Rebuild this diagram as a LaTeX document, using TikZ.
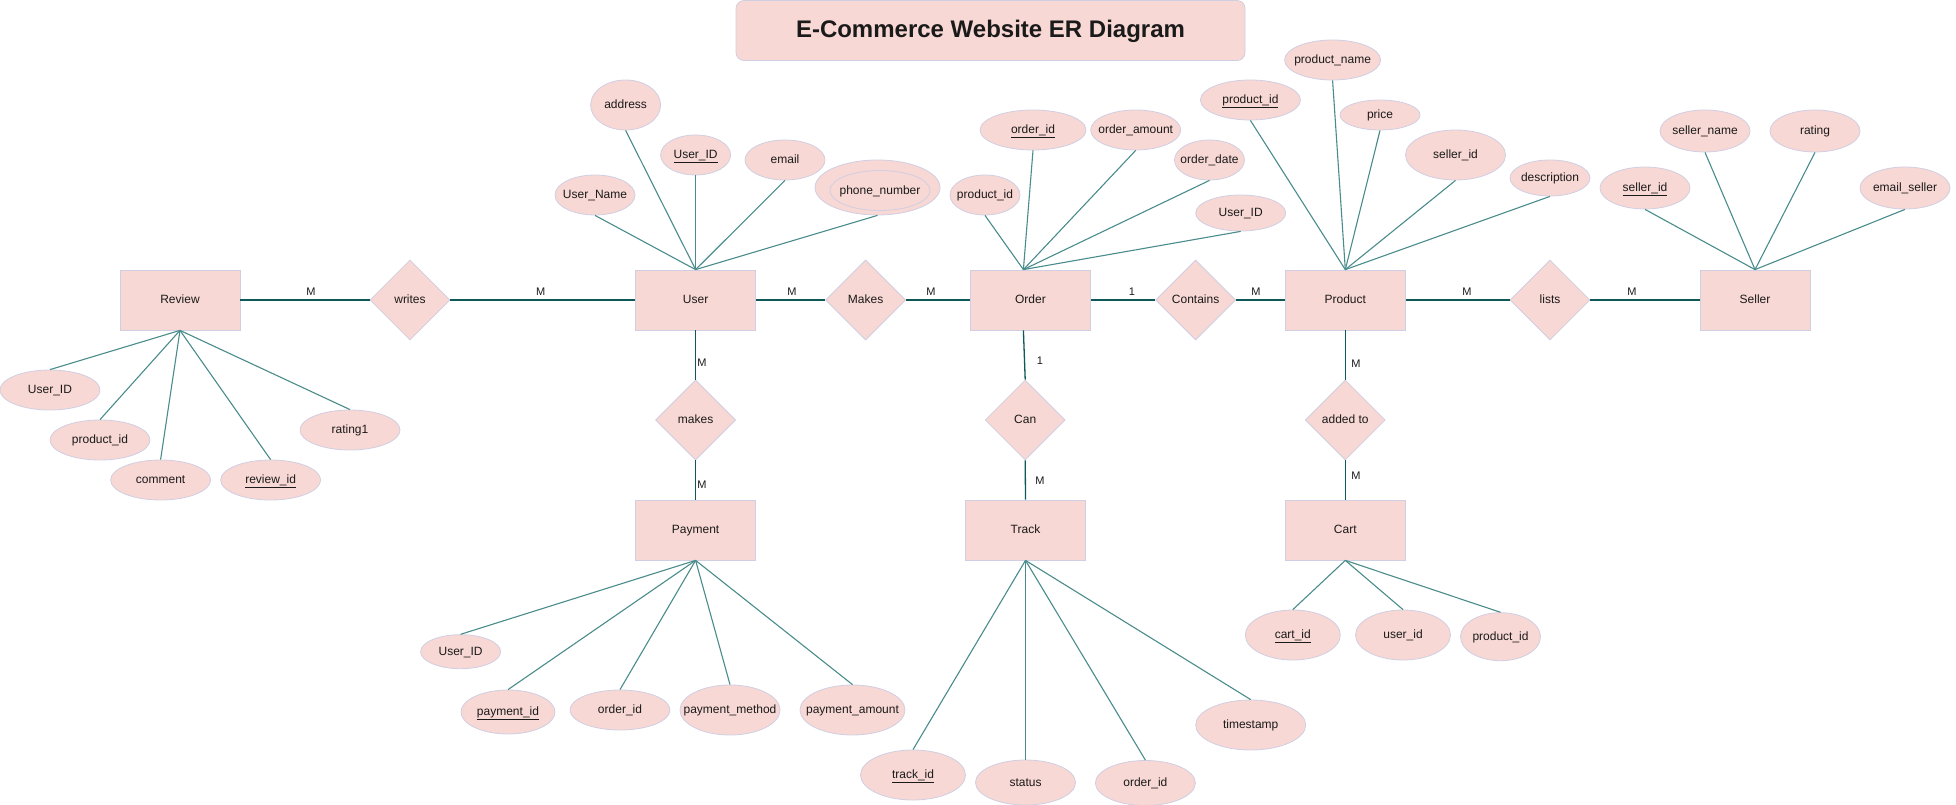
\documentclass[tikz,border=0pt]{standalone}
\usepackage{fontspec}
\setmainfont{Liberation Sans}
\usetikzlibrary{shapes.geometric,calc}
\definecolor{erfill}{HTML}{F8D8D4}
\definecolor{erborder}{HTML}{D0CEE2}
\definecolor{relline}{HTML}{0E5858}
\definecolor{attrline}{HTML}{4A8B8B}
\definecolor{ertext}{HTML}{1A1A1A}
\newcommand\erlbl[1]{\makebox[0pt]{#1}}
\begin{document}
\begin{tikzpicture}[x=1pt,y=-1pt,
  every node/.style={text=ertext, font=\fontsize{12}{14}\selectfont, text height=10pt, text depth=2.4pt},
  entity/.style={rectangle, fill=erfill, draw=erborder, line width=0.8pt, minimum width=120pt, minimum height=60pt, inner sep=0pt},
  relship/.style={diamond, fill=erfill, draw=erborder, line width=0.8pt, minimum width=80pt, minimum height=80pt, inner sep=0pt},
  attr/.style 2 args={ellipse, fill=erfill, draw=erborder, line width=0.8pt, inner sep=0pt, minimum width=#1pt, minimum height=#2pt},
  card/.style={font=\fontsize{11}{13}\selectfont, inner sep=0pt, text height=8pt, text depth=0pt},
  relconn/.style={draw=relline, line width=1.3pt},
  attrconn/.style={draw=attrline, line width=1.1pt},
  titlebox/.style={rectangle, rounded corners=8pt, fill=erfill, draw=erborder, line width=0.8pt, minimum width=509pt, minimum height=60pt, font=\fontsize{24}{28}\selectfont\bfseries, text height=18pt, text depth=4.5pt}
]
\useasboundingbox (0,0) rectangle (1956,805);

% title
\node[titlebox] (title) at (990.5,30.5) {E-Commerce Website ER Diagram};

% entities
\node[entity] (review) at (180,300) {Review};
\node[entity] (user) at (695.6,300) {User};
\node[entity] (order) at (1030.4,300) {Order};
\node[entity] (product) at (1345.3,300) {Product};
\node[entity, minimum width=110pt] (seller) at (1755,300) {Seller};
\node[entity] (payment) at (695.6,530) {Payment};
\node[entity] (track) at (1025.5,530) {Track};
\node[entity] (cart) at (1345.3,530) {Cart};

% relationships
\node[relship] (writes) at (410,300) {\erlbl{writes}};
\node[relship] (makesA) at (865.6,300) {\erlbl{Makes}};
\node[relship] (contains) at (1195.6,300) {\erlbl{Contains}};
\node[relship] (lists) at (1550,300) {\erlbl{lists}};
\node[relship] (makesB) at (695.6,420) {\erlbl{makes}};
\node[relship] (can) at (1025.2,420) {\erlbl{Can}};
\node[relship] (addedto) at (1345.3,420) {\erlbl{added to}};

% user attributes
\node[attr={70}{50}] (uaddr) at (625.6,105) {\erlbl{address}};
\node[attr={70}{40}] (uid) at (695.6,155) {\erlbl{\underline{User\_ID}}};
\node[attr={80}{40}] (uemail) at (785,160) {\erlbl{email}};
\node[attr={80}{40}] (uname) at (595,195) {\erlbl{User\_Name}};
\node[attr={125}{55}] (uphone) at (877.5,187.5) {};
\node[attr={100}{40}] (uphonein) at (880,190.5) {\erlbl{phone\_number}};

% order attributes
\node[attr={106}{40}] (oid) at (1033,130) {\erlbl{\underline{order\_id}}};
\node[attr={90}{40}] (oamt) at (1135.7,130) {\erlbl{order\_amount}};
\node[attr={70}{40}] (odate) at (1209.5,160) {\erlbl{order\_date}};
\node[attr={70}{40}] (opid) at (985,195) {\erlbl{product\_id}};
\node[attr={90}{36}] (ouid) at (1240.7,213) {\erlbl{User\_ID}};

% product attributes
\node[attr={96}{40}] (pname) at (1332.6,60) {\erlbl{product\_name}};
\node[attr={100}{40}] (pid) at (1250.4,100) {\erlbl{\underline{product\_id}}};
\node[attr={80}{30}] (pprice) at (1380,115) {\erlbl{price}};
\node[attr={100}{50}] (psid) at (1455.5,155) {\erlbl{seller\_id}};
\node[attr={80}{36}] (pdesc) at (1550,178) {\erlbl{description}};

% seller attributes
\node[attr={90}{42}] (ssid) at (1645,188) {\erlbl{\underline{seller\_id}}};
\node[attr={90}{42}] (sname) at (1705,131) {\erlbl{seller\_name}};
\node[attr={90}{42}] (srating) at (1815,131) {\erlbl{rating}};
\node[attr={90}{42}] (semail) at (1905,188) {\erlbl{email\_seller}};

% review attributes
\node[attr={100}{40}] (ruid) at (50,390) {\erlbl{User\_ID}};
\node[attr={100}{40}] (rpid) at (100,440) {\erlbl{product\_id}};
\node[attr={100}{40}] (rcomment) at (160.6,480) {\erlbl{comment}};
\node[attr={100}{40}] (rrid) at (270.6,480) {\erlbl{\underline{review\_id}}};
\node[attr={100}{40}] (rrating) at (350,430) {\erlbl{rating1}};

% payment attributes
\node[attr={80}{34}] (pyuid) at (460.6,651.7) {\erlbl{User\_ID}};
\node[attr={94}{44}] (pyid) at (508,712) {\erlbl{\underline{payment\_id}}};
\node[attr={100}{40}] (pyoid) at (620,710) {\erlbl{order\_id}};
\node[attr={100}{50}] (pymethod) at (730,710) {\erlbl{payment\_method}};
\node[attr={105}{50}] (pyamt) at (852.5,710) {\erlbl{payment\_amount}};

% track attributes
\node[attr={105}{50}] (tid) at (913,775) {\erlbl{\underline{track\_id}}};
\node[attr={100}{45}] (tstatus) at (1025.5,782.5) {\erlbl{status}};
\node[attr={100}{45}] (toid) at (1145.4,783) {\erlbl{order\_id}};
\node[attr={110}{50}] (tts) at (1250.7,725) {\erlbl{timestamp}};

% cart attributes
\node[attr={95}{50}] (cid) at (1292.8,635) {\erlbl{\underline{cart\_id}}};
\node[attr={95}{50}] (cuid) at (1403,635) {\erlbl{user\_id}};
\node[attr={80}{48}] (cpid) at (1500.5,636.7) {\erlbl{product\_id}};

\coordinate (ordertop) at ($(order.north)+(-7,0)$);
\coordinate (orderbot) at ($(order.south)+(-7,0)$);

% relationship connectors
\draw[relconn] (review.east) -- (writes.west);
\draw[relconn] (writes.east) -- (user.west);
\draw[relconn] (user.east) -- (makesA.west);
\draw[relconn] (makesA.east) -- (order.west);
\draw[relconn] (order.east) -- (contains.west);
\draw[relconn] (contains.east) -- (product.west);
\draw[relconn] (product.east) -- (lists.west);
\draw[relconn] (lists.east) -- (seller.west);
\draw[relconn] (user.south) -- (makesB.north);
\draw[relconn] (makesB.south) -- (payment.north);
\draw[relconn] (orderbot) -- (can.north);
\draw[relconn] (can.south) -- (track.north);
\draw[relconn] (product.south) -- (addedto.north);
\draw[relconn] (addedto.south) -- (cart.north);

% cardinality labels
\node[card] (c1) at (311,291) {M};
\node[card] (c2) at (540.6,291) {M};
\node[card] (c3) at (792,291) {M};
\node[card] (c4) at (931,291) {M};
\node[card] (c5) at (1132,291) {1};
\node[card] (c6) at (1256,291) {M};
\node[card] (c7) at (1467,291) {M};
\node[card] (c8) at (1632,291) {M};
\node[card] (c9) at (702,362) {M};
\node[card] (c10) at (702,484) {M};
\node[card] (c11) at (1040,360) {1};
\node[card] (c12) at (1040,480) {M};
\node[card] (c13) at (1356,363) {M};
\node[card] (c14) at (1356,475) {M};

% attribute connectors
\foreach \a in {uaddr,uid,uemail,uname,uphone}
  \draw[attrconn] (\a.south) -- (user.north);
\foreach \a in {oid,oamt,odate,opid,ouid}
  \draw[attrconn] (\a.south) -- (ordertop);
\foreach \a in {pname,pid,pprice,psid,pdesc}
  \draw[attrconn] (\a.south) -- (product.north);
\foreach \a in {ssid,sname,srating,semail}
  \draw[attrconn] (\a.south) -- (seller.north);
\foreach \a in {ruid,rpid,rcomment,rrid,rrating}
  \draw[attrconn] (\a.north) -- (review.south);
\foreach \a in {pyuid,pyid,pyoid,pymethod,pyamt}
  \draw[attrconn] (\a.north) -- (payment.south);
\foreach \a in {tid,tstatus,toid,tts}
  \draw[attrconn] (\a.north) -- (track.south);
\foreach \a in {cid,cuid,cpid}
  \draw[attrconn] (\a.north) -- (cart.south);
\end{tikzpicture}
\end{document}
